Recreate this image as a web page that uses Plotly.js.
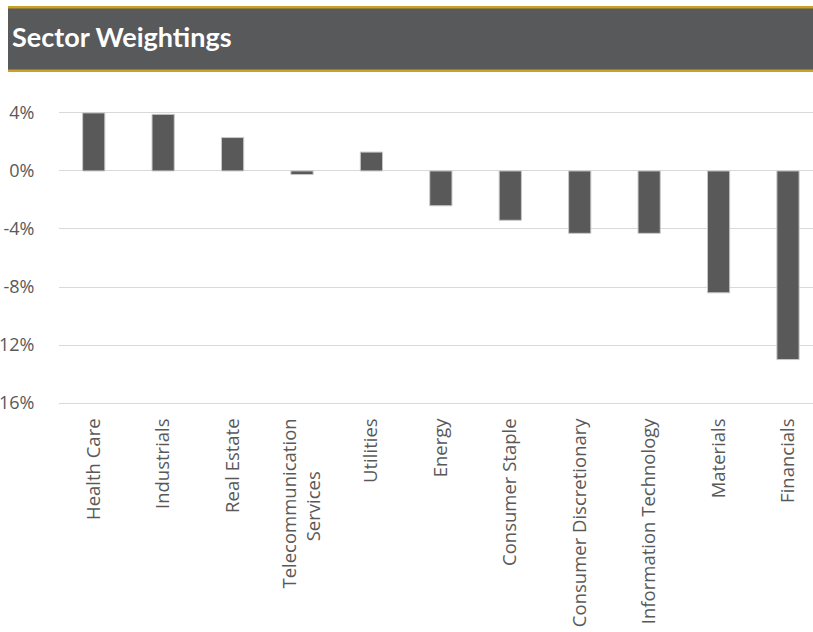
<!DOCTYPE html>
<html>
<head>
<meta charset="utf-8">
<script src="https://cdn.plot.ly/plotly-3.0.1.min.js"></script>
<style>
html,body{margin:0;padding:0;background:#fff;}
#chart{width:813px;height:632px;}
</style>
</head>
<body>
<div id="chart"></div>
<script>
const sectors = ["Health Care","Industrials","Real Estate","Telecommunication<br>Services" + "&nbsp;".repeat(11),"Utilities","Energy","Consumer Staple","Consumer Discretionary","Information Technology","Materials","Financials"];
const weights = [4.0, 3.9, 2.3, -0.25, 1.3, -2.4, -3.4, -4.3, -4.3, -8.4, -13.0];
const tickVals = [4, 0, -4, -8, -12, -16];
const tickLabels = ["4%", "0%", "-4%", "-8%", "12%", "16%"];
const chartTitle = "Sector Weightings";

const trace = {
  type: "bar",
  x: sectors.map((s, i) => i),
  y: weights,
  width: 0.32,
  marker: {color: "#595959", line: {color: "#c8c8c8", width: 1}},
  hoverinfo: "skip"
};

const T = 110, B = 226, L = 59;
const layout = {
  width: 813, height: 632,
  margin: {l: L, r: 0, t: T, b: B, pad: 0},
  paper_bgcolor: "#ffffff",
  plot_bgcolor: "#ffffff",
  showlegend: false,
  bargap: 0,
  xaxis: {
    range: [-0.5, 10.36],
    tickvals: sectors.map((s, i) => i),
    ticktext: sectors,
    tickangle: -90,
    showgrid: false, zeroline: false, showline: false,
    ticks: "outside", ticklen: 4, tickcolor: "rgba(0,0,0,0)",
    tickfont: {family: "Open Sans", size: 18.5, color: "#595959"},
    fixedrange: true
  },
  yaxis: {
    range: [-16.2, 4.2],
    tickvals: tickVals,
    ticktext: tickLabels,
    showgrid: true, gridcolor: "#d9d9d9", gridwidth: 1,
    zeroline: true, zerolinecolor: "#d9d9d9", zerolinewidth: 1,
    showline: false,
    ticks: "outside", ticklen: 20, tickcolor: "rgba(0,0,0,0)",
    tickfont: {family: "Open Sans", size: 18, color: "#595959"},
    fixedrange: true
  }
};

const plotW = 813 - L, plotH = 632 - T - B;
function px(x){ return (x - L) / plotW; }
function py(y){ return (632 - B - y) / plotH; }
layout.shapes = [
  {type: "rect", xref: "paper", yref: "paper", x0: px(8), x1: px(813), y0: py(70), y1: py(7), fillcolor: "#58595b", line: {width: 0}, layer: "above"},
  {type: "rect", xref: "paper", yref: "paper", x0: px(8), x1: px(813), y0: py(8.5), y1: py(6), fillcolor: "#c9a227", line: {width: 0}, layer: "above"},
  {type: "rect", xref: "paper", yref: "paper", x0: px(8), x1: px(813), y0: py(72), y1: py(69.5), fillcolor: "#c9a227", line: {width: 0}, layer: "above"}
];
layout.annotations = [
  {xref: "paper", yref: "paper", x: px(10), y: py(36), xanchor: "left", yanchor: "middle", showarrow: false,
   text: "<b>" + chartTitle + "</b>", font: {family: "Lato", size: 27, color: "#ffffff"}}
];

Plotly.newPlot("chart", [trace], layout, {displayModeBar: false, staticPlot: true});
</script>
</body>
</html>
